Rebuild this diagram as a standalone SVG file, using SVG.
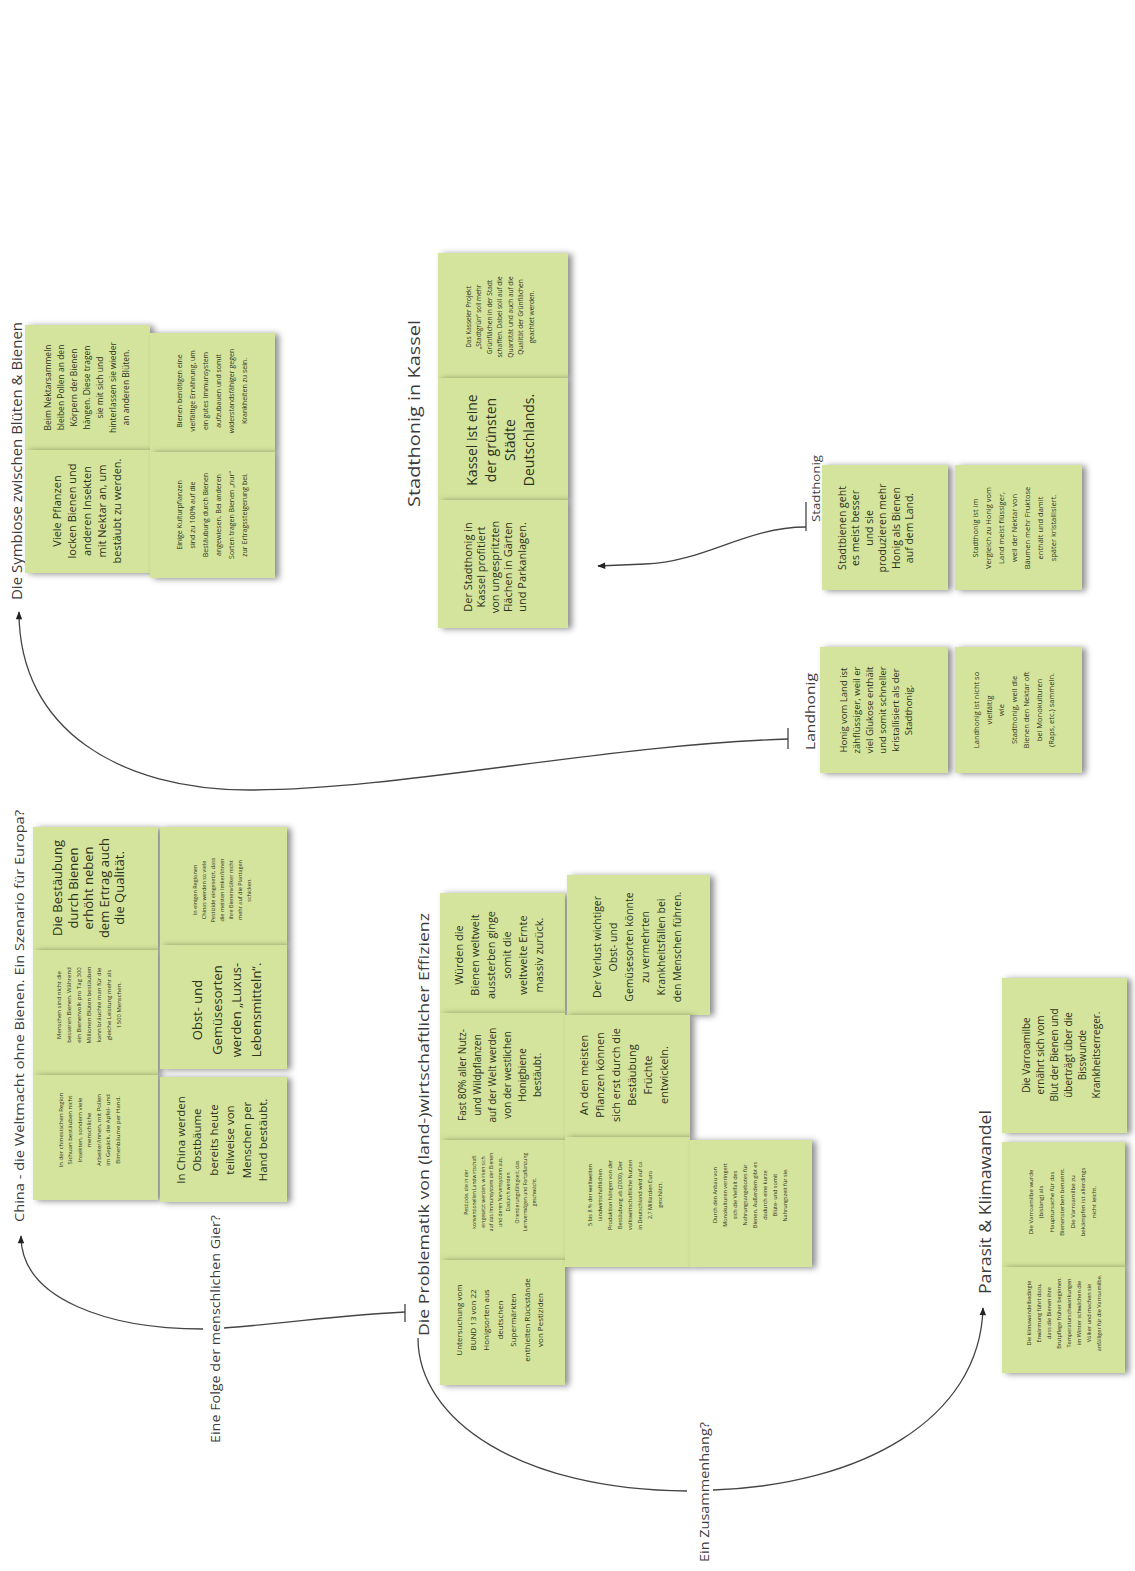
<svg xmlns="http://www.w3.org/2000/svg" width="1135" height="1571" viewBox="0 0 1135 1571">
<style>
.n{fill:#d5e49c;filter:url(#sh)}
.t{font-family:"Open Sans","Liberation Sans",sans-serif;fill:#2c331d;text-anchor:middle}
.ti{font-family:"Open Sans","Liberation Sans",sans-serif;fill:#3c3c3c}
.c{fill:none;stroke:#444;stroke-width:1.3}
</style>
<defs>
<filter id="sh" x="-20%" y="-20%" width="150%" height="150%">
<feDropShadow dx="4" dy="1" stdDeviation="3" flood-color="#000" flood-opacity="0.45"/>
</filter>
<marker id="arr" viewBox="0 0 10 10" refX="9" refY="5" markerWidth="10" markerHeight="8" markerUnits="userSpaceOnUse" orient="auto">
<path d="M0,1 L10,5 L0,9 z" fill="#222"/>
</marker>
</defs>
<rect width="1135" height="1571" fill="#fff"/>

<g id="connectors">
<path class="c" d="M788,739 C 600,745 400,790 250,790 C 120,790 19,730 19,612" marker-end="url(#arr)"/>
<path class="c" d="M788,728 L788,749"/>
<path class="c" d="M806,502 L806,531"/>
<path class="c" d="M806,527 C 745,527 705,562 645,564 L 598,566" marker-end="url(#arr)"/>
<path class="c" d="M405,1304 L405,1322"/>
<path class="c" d="M405,1312 C 330,1316 260,1326 224,1328 M203,1329 C 110,1329 21,1300 21,1236" marker-end="url(#arr)"/>
<path class="c" d="M418,1338 C 418,1420 520,1490 687,1491 M713,1490 C 860,1485 980,1420 983,1308" marker-end="url(#arr)"/>
</g>

<!-- Symbiose -->
<g id="title-symbiose"><text class="ti" font-size="14" textLength="278" lengthAdjust="spacingAndGlyphs" transform="translate(22,600) rotate(-90)">Die Symbiose zwischen Blüten &amp; Bienen</text></g>
<g id="sym1"><rect class="n" x="25" y="325" width="125" height="125"/>
<text class="t" font-size="8.5" transform="translate(87.5,387.5) rotate(-90)"><tspan x="0" dy="-36.2">Beim Nektarsammeln</tspan><tspan x="0" dy="13">bleiben Pollen an den</tspan><tspan x="0" dy="13">Körpern der Bienen</tspan><tspan x="0" dy="13">hängen. Diese tragen</tspan><tspan x="0" dy="13">sie mit sich und</tspan><tspan x="0" dy="13">hinterlassen sie wieder</tspan><tspan x="0" dy="13">an anderen Blüten.</tspan></text></g>
<g id="sym2"><rect class="n" x="25" y="450" width="125" height="123"/>
<text class="t" font-size="11" transform="translate(87,511) rotate(-90)"><tspan x="0" dy="-26.4">Viele Pflanzen</tspan><tspan x="0" dy="15">locken Bienen und</tspan><tspan x="0" dy="15">anderen Insekten</tspan><tspan x="0" dy="15">mit Nektar an, um</tspan><tspan x="0" dy="15">bestäubt zu werden.</tspan></text></g>
<g id="sym3"><rect class="n" x="150" y="333" width="125" height="119"/>
<text class="t" font-size="7" transform="translate(212.5,391) rotate(-90)"><tspan x="0" dy="-30.2">Bienen benötigen eine</tspan><tspan x="0" dy="13">vielfältige Ernährung, um</tspan><tspan x="0" dy="13">ein gutes Immunsystem</tspan><tspan x="0" dy="13">aufzubauen und somit</tspan><tspan x="0" dy="13">widerstandsfähiger gegen</tspan><tspan x="0" dy="13">Krankheiten zu sein.</tspan></text></g>
<g id="sym4"><rect class="n" x="150" y="452" width="125" height="126"/>
<text class="t" font-size="7" transform="translate(212.5,515) rotate(-90)"><tspan x="0" dy="-30.2">Einige Kulturpflanzen</tspan><tspan x="0" dy="13">sind zu 100% auf die</tspan><tspan x="0" dy="13">Bestäubung durch Bienen</tspan><tspan x="0" dy="13">angewiesen. Bei anderen</tspan><tspan x="0" dy="13">Sorten tragen Bienen „nur“</tspan><tspan x="0" dy="13">zur Ertragssteigerung bei.</tspan></text></g>

<!-- Kassel -->
<g id="title-kassel"><text class="ti" font-size="17" textLength="187" lengthAdjust="spacingAndGlyphs" transform="translate(420,507) rotate(-90)">Stadthonig in Kassel</text></g>
<g id="k1"><rect class="n" x="438" y="253" width="130" height="125"/>
<text class="t" font-size="6.5" transform="translate(500,317) rotate(-90)"><tspan x="0" dy="-29.4">Das Kasseler Projekt</tspan><tspan x="0" dy="10.5">„Stadtgrün“ soll mehr</tspan><tspan x="0" dy="10.5">Grünflächen in der Stadt</tspan><tspan x="0" dy="10.5">schaffen. Dabei soll auf die</tspan><tspan x="0" dy="10.5">Quantität und auch auf die</tspan><tspan x="0" dy="10.5">Qualität der Grünflächen</tspan><tspan x="0" dy="10.5">geachtet werden.</tspan></text></g>
<g id="k2"><rect class="n" x="438" y="378" width="130" height="122"/>
<text class="t" font-size="14" transform="translate(501,440) rotate(-90)"><tspan x="0" dy="-23.9">Kassel ist eine</tspan><tspan x="0" dy="19">der grünsten</tspan><tspan x="0" dy="19">Städte</tspan><tspan x="0" dy="19">Deutschlands.</tspan></text></g>
<g id="k3"><rect class="n" x="438" y="500" width="130" height="128"/>
<text class="t" font-size="11" transform="translate(495,567) rotate(-90)"><tspan x="0" dy="-23.4">Der Stadthonig in</tspan><tspan x="0" dy="13.5">Kassel profitiert</tspan><tspan x="0" dy="13.5">von ungespritzten</tspan><tspan x="0" dy="13.5">Flächen in Gärten</tspan><tspan x="0" dy="13.5">und Parkanlagen.</tspan></text></g>

<!-- Stadthonig -->
<g id="label-stadthonig"><text class="ti" font-size="11.5" textLength="67" lengthAdjust="spacingAndGlyphs" transform="translate(820,522) rotate(-90)">Stadthonig</text></g>
<g id="s1"><rect class="n" x="822" y="465" width="126" height="125"/>
<text class="t" font-size="10.5" transform="translate(876,528) rotate(-90)"><tspan x="0" dy="-30.3">Stadtbienen geht</tspan><tspan x="0" dy="13.5">es meist besser</tspan><tspan x="0" dy="13.5">und sie</tspan><tspan x="0" dy="13.5">produzieren mehr</tspan><tspan x="0" dy="13.5">Honig als Bienen</tspan><tspan x="0" dy="13.5">auf dem Land.</tspan></text></g>
<g id="s2"><rect class="n" x="955" y="465" width="127" height="125"/>
<text class="t" font-size="7.5" transform="translate(1015,528) rotate(-90)"><tspan x="0" dy="-37.4">Stadthonig ist im</tspan><tspan x="0" dy="13">Vergleich zu Honig vom</tspan><tspan x="0" dy="13">Land meist flüssiger,</tspan><tspan x="0" dy="13">weil der Nektar von</tspan><tspan x="0" dy="13">Bäumen mehr Fruktose</tspan><tspan x="0" dy="13">enthält und damit</tspan><tspan x="0" dy="13">später kristallisiert.</tspan></text></g>

<!-- Landhonig -->
<g id="label-landhonig"><text class="ti" font-size="13.5" textLength="77" lengthAdjust="spacingAndGlyphs" transform="translate(815,750) rotate(-90)">Landhonig</text></g>
<g id="l1"><rect class="n" x="820" y="647" width="128" height="126"/>
<text class="t" font-size="9.5" transform="translate(876,710) rotate(-90)"><tspan x="0" dy="-29.4">Honig vom Land ist</tspan><tspan x="0" dy="13">zähflüssiger, weil er</tspan><tspan x="0" dy="13">viel Glukose enthält</tspan><tspan x="0" dy="13">und somit schneller</tspan><tspan x="0" dy="13">kristallisiert als der</tspan><tspan x="0" dy="13">Stadthonig.</tspan></text></g>
<g id="l2"><rect class="n" x="955" y="647" width="127" height="126"/>
<text class="t" font-size="7.5" transform="translate(1014,710) rotate(-90)"><tspan x="0" dy="-35">Landhonig ist nicht so</tspan><tspan x="0" dy="12.5">vielfältig</tspan><tspan x="0" dy="12.5">wie</tspan><tspan x="0" dy="12.5">Stadthonig, weil die</tspan><tspan x="0" dy="12.5">Bienen den Nektar oft</tspan><tspan x="0" dy="12.5">bei Monokulturen</tspan><tspan x="0" dy="12.5">(Raps, etc.) sammeln.</tspan></text></g>

<!-- China -->
<g id="title-china"><text class="ti" font-size="13.5" textLength="412" lengthAdjust="spacingAndGlyphs" transform="translate(24,1222) rotate(-90)">China - die Weltmacht ohne Bienen. Ein Szenario für Europa?</text></g>
<g id="c1"><rect class="n" x="33" y="827" width="125" height="123"/>
<text class="t" font-size="13" transform="translate(89,888) rotate(-90)"><tspan x="0" dy="-26.7">Die Bestäubung</tspan><tspan x="0" dy="15.5">durch Bienen</tspan><tspan x="0" dy="15.5">erhöht neben</tspan><tspan x="0" dy="15.5">dem Ertrag auch</tspan><tspan x="0" dy="15.5">die Qualität.</tspan></text></g>
<g id="c2"><rect class="n" x="33" y="950" width="125" height="125"/>
<text class="t" font-size="6" transform="translate(89,1005) rotate(-90)"><tspan x="0" dy="-28">Menschen sind nicht die</tspan><tspan x="0" dy="10">besseren Bienen. Während</tspan><tspan x="0" dy="10">ein Bienenvolk pro Tag 300</tspan><tspan x="0" dy="10">Millionen Blüten bestäuben</tspan><tspan x="0" dy="10">kann bräuchte man für die</tspan><tspan x="0" dy="10">gleiche Leistung mehr als</tspan><tspan x="0" dy="10">1500 Menschen.</tspan></text></g>
<g id="c3"><rect class="n" x="33" y="1075" width="125" height="125"/>
<text class="t" font-size="6" transform="translate(89,1130) rotate(-90)"><tspan x="0" dy="-26.5">In der chinesischen Region</tspan><tspan x="0" dy="9.5">Sichuan bestäuben nicht</tspan><tspan x="0" dy="9.5">Insekten, sondern viele</tspan><tspan x="0" dy="9.5">menschliche</tspan><tspan x="0" dy="9.5">Arbeiter/innen, mit Pollen</tspan><tspan x="0" dy="9.5">im Gepäck, die Apfel- und</tspan><tspan x="0" dy="9.5">Birnenbäume per Hand.</tspan></text></g>
<g id="c4"><rect class="n" x="160" y="827" width="127" height="118"/>
<text class="t" font-size="5.5" transform="translate(222,890) rotate(-90)"><tspan x="0" dy="-25.2">In einigen Regionen</tspan><tspan x="0" dy="9">Chinas werden so viele</tspan><tspan x="0" dy="9">Pestizide eingesetzt, dass</tspan><tspan x="0" dy="9">die meisten Imker/innen</tspan><tspan x="0" dy="9">ihre Bienenvölker nicht</tspan><tspan x="0" dy="9">mehr auf die Plantagen</tspan><tspan x="0" dy="9">schicken.</tspan></text></g>
<g id="c5"><rect class="n" x="160" y="945" width="127" height="124"/>
<text class="t" font-size="13" transform="translate(227,1010) rotate(-90)"><tspan x="0" dy="-25">Obst- und</tspan><tspan x="0" dy="19.5">Gemüsesorten</tspan><tspan x="0" dy="19.5">werden „Luxus-</tspan><tspan x="0" dy="19.5">Lebensmitteln“.</tspan></text></g>
<g id="c6"><rect class="n" x="160" y="1077" width="127" height="125"/>
<text class="t" font-size="11.5" transform="translate(222,1140) rotate(-90)"><tspan x="0" dy="-37.5">In China werden</tspan><tspan x="0" dy="16.5">Obstbäume</tspan><tspan x="0" dy="16.5">bereits heute</tspan><tspan x="0" dy="16.5">teilweise von</tspan><tspan x="0" dy="16.5">Menschen per</tspan><tspan x="0" dy="16.5">Hand bestäubt.</tspan></text></g>
<g id="label-gier"><text class="ti" font-size="12.5" textLength="228" lengthAdjust="spacingAndGlyphs" transform="translate(220,1443) rotate(-90)">Eine Folge der menschlichen Gier?</text></g>

<!-- Problematik -->
<g id="title-problematik"><text class="ti" font-size="15" textLength="423" lengthAdjust="spacingAndGlyphs" transform="translate(429,1336) rotate(-90)">Die Problematik von (land-)wirtschaftlicher Effizienz</text></g>
<g id="p1"><rect class="n" x="440" y="893" width="125" height="120"/>
<text class="t" font-size="11" transform="translate(499,955) rotate(-90)"><tspan x="0" dy="-36.4">Würden die</tspan><tspan x="0" dy="16">Bienen weltweit</tspan><tspan x="0" dy="16">aussterben ginge</tspan><tspan x="0" dy="16">somit die</tspan><tspan x="0" dy="16">weltweite Ernte</tspan><tspan x="0" dy="16">massiv zurück.</tspan></text></g>
<g id="p3"><rect class="n" x="440" y="1013" width="125" height="127"/>
<text class="t" font-size="10" transform="translate(500,1075) rotate(-90)"><tspan x="0" dy="-34.2">Fast 80% aller Nutz-</tspan><tspan x="0" dy="15">und Wildpflanzen</tspan><tspan x="0" dy="15">auf der Welt werden</tspan><tspan x="0" dy="15">von der westlichen</tspan><tspan x="0" dy="15">Honigbiene</tspan><tspan x="0" dy="15">bestäubt.</tspan></text></g>
<g id="p5"><rect class="n" x="440" y="1140" width="125" height="120"/>
<text class="t" font-size="5" transform="translate(500,1192) rotate(-90)"><tspan x="0" dy="-32.4">Pestizide, die in der</tspan><tspan x="0" dy="8.5">konventionellen Landwirtschaft</tspan><tspan x="0" dy="8.5">eingesetzt werden, wirken sich</tspan><tspan x="0" dy="8.5">auf das Immunsystem der Bienen</tspan><tspan x="0" dy="8.5">und deren Nervensystem aus.</tspan><tspan x="0" dy="8.5">Dadurch werden</tspan><tspan x="0" dy="8.5">Orientierungsfähigkeit, das</tspan><tspan x="0" dy="8.5">Lernvermögen und Fortpflanzung</tspan><tspan x="0" dy="8.5">geschwächt.</tspan></text></g>
<g id="p6"><rect class="n" x="440" y="1260" width="125" height="125"/>
<text class="t" font-size="8" transform="translate(500,1320) rotate(-90)"><tspan x="0" dy="-37.9">Untersuchung vom</tspan><tspan x="0" dy="13.5">BUND 13 von 22</tspan><tspan x="0" dy="13.5">Honigsorten aus</tspan><tspan x="0" dy="13.5">deutschen</tspan><tspan x="0" dy="13.5">Supermärkten</tspan><tspan x="0" dy="13.5">enthielten Rückstände</tspan><tspan x="0" dy="13.5">von Pestiziden</tspan></text></g>
<g id="p2"><rect class="n" x="567" y="875" width="143" height="140"/>
<text class="t" font-size="10.5" transform="translate(637,947) rotate(-90)"><tspan x="0" dy="-36.5">Der Verlust wichtiger</tspan><tspan x="0" dy="16">Obst- und</tspan><tspan x="0" dy="16">Gemüsesorten könnte</tspan><tspan x="0" dy="16">zu vermehrten</tspan><tspan x="0" dy="16">Krankheitsfällen bei</tspan><tspan x="0" dy="16">den Menschen führen.</tspan></text></g>
<g id="p4"><rect class="n" x="565" y="1015" width="125" height="122"/>
<text class="t" font-size="11" transform="translate(624,1075) rotate(-90)"><tspan x="0" dy="-36.4">An den meisten</tspan><tspan x="0" dy="16">Pflanzen können</tspan><tspan x="0" dy="16">sich erst durch die</tspan><tspan x="0" dy="16">Bestäubung</tspan><tspan x="0" dy="16">Früchte</tspan><tspan x="0" dy="16">entwickeln.</tspan></text></g>
<g id="p7"><rect class="n" x="565" y="1137" width="125" height="130"/>
<text class="t" font-size="5.5" transform="translate(625,1195) rotate(-90)"><tspan x="0" dy="-33.2">5 bis 8 % der weltweiten</tspan><tspan x="0" dy="10">landwirtschaftlichen</tspan><tspan x="0" dy="10">Produktion hängen von der</tspan><tspan x="0" dy="10">Bestäubung ab (2009). Der</tspan><tspan x="0" dy="10">volkswirtschaftliche Nutzen</tspan><tspan x="0" dy="10">in Deutschland wird auf ca.</tspan><tspan x="0" dy="10">2,7 Milliarden Euro</tspan><tspan x="0" dy="10">geschätzt.</tspan></text></g>
<g id="p8"><rect class="n" x="690" y="1140" width="122" height="127"/>
<text class="t" font-size="5.5" transform="translate(750,1195) rotate(-90)"><tspan x="0" dy="-33.2">Durch den Anbau von</tspan><tspan x="0" dy="10">Monokulturen verringert</tspan><tspan x="0" dy="10">sich die Vielfalt des</tspan><tspan x="0" dy="10">Nahrungsangebotes für</tspan><tspan x="0" dy="10">Bienen. Außerdem gibt es</tspan><tspan x="0" dy="10">dadurch eine kurze</tspan><tspan x="0" dy="10">Blüte- und somit</tspan><tspan x="0" dy="10">Nahrungszeit für sie.</tspan></text></g>
<g id="label-zusammenhang"><text class="ti" font-size="13" textLength="140" lengthAdjust="spacingAndGlyphs" transform="translate(709,1562) rotate(-90)">Ein Zusammenhang?</text></g>

<!-- Parasit -->
<g id="title-parasit"><text class="ti" font-size="16" textLength="184" lengthAdjust="spacingAndGlyphs" transform="translate(991,1294) rotate(-90)">Parasit &amp; Klimawandel</text></g>
<g id="v1"><rect class="n" x="1002" y="978" width="125" height="155"/>
<text class="t" font-size="10" transform="translate(1062,1055) rotate(-90)"><tspan x="0" dy="-31.7">Die Varroamilbe</tspan><tspan x="0" dy="14">ernährt sich vom</tspan><tspan x="0" dy="14">Blut der Bienen und</tspan><tspan x="0" dy="14">überträgt über die</tspan><tspan x="0" dy="14">Bisswunde</tspan><tspan x="0" dy="14">Krankheitserreger.</tspan></text></g>
<g id="v2"><rect class="n" x="1002" y="1142" width="123" height="125"/>
<text class="t" font-size="6" transform="translate(1062,1202) rotate(-90)"><tspan x="0" dy="-29.5">Die Varroamilbe wurde</tspan><tspan x="0" dy="10.5">(bislang) als</tspan><tspan x="0" dy="10.5">Hauptursache für das</tspan><tspan x="0" dy="10.5">Bienensterben benannt.</tspan><tspan x="0" dy="10.5">Die Varroamilbe zu</tspan><tspan x="0" dy="10.5">bekämpfen ist allerdings</tspan><tspan x="0" dy="10.5">nicht leicht.</tspan></text></g>
<g id="v3"><rect class="n" x="1002" y="1267" width="123" height="106"/>
<text class="t" font-size="5.5" transform="translate(1064,1313) rotate(-90)"><tspan x="0" dy="-33.2">Die klimawandelbedingte</tspan><tspan x="0" dy="10">Erwärmung führt dazu,</tspan><tspan x="0" dy="10">dass die Bienen ihre</tspan><tspan x="0" dy="10">Brutpflege früher beginnen.</tspan><tspan x="0" dy="10">Temperaturschwankungen</tspan><tspan x="0" dy="10">im Winter schwächen die</tspan><tspan x="0" dy="10">Völker und machen sie</tspan><tspan x="0" dy="10">anfälliger für die Varroamilbe.</tspan></text></g>
</svg>
